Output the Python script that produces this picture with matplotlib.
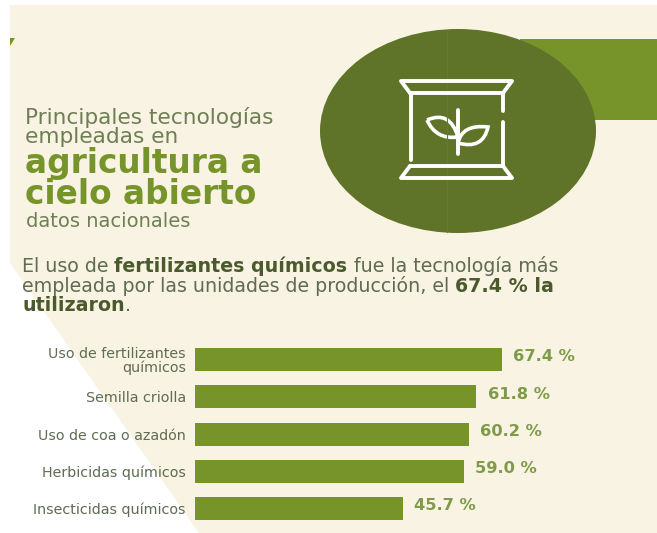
"""Principales tecnologías en agricultura a cielo abierto"""

import numpy as np
import matplotlib.pyplot as plt
from matplotlib.patches import Ellipse, PathPatch, Polygon, Rectangle
from matplotlib.path import Path

categories = [
    "Uso de fertilizantes\nquímicos",
    "Semilla criolla",
    "Uso de coa o azadón",
    "Herbicidas químicos",
    "Insecticidas químicos",
]
percentages = [67.4, 61.8, 60.2, 59.0, 45.7]

paragraph = [
    [("El uso de ", False), ("fertilizantes químicos", True), (" fue la tecnología más", False)],
    [("empleada por las unidades de producción, el ", False), ("67.4 % la", True)],
    [("utilizaron", True), (".", False)],
]

WIDTH, HEIGHT = 657, 533
CREAM = "#f8f3e2"
GREEN = "#76942a"
DARK_GREEN = "#5f7428"
VALUE_GREEN = "#7f9a48"
GRAY_TEXT = "#5f6b52"
BOLD_TEXT = "#4b5a2c"

plt.rcParams["font.family"] = ["DejaVu Sans"]

fig = plt.figure(figsize=(WIDTH / 100, HEIGHT / 100), dpi=100, facecolor="white")

# background layer in pixel coordinates, y going down
bg = fig.add_axes([0, 0, 1, 1])
bg.set_xlim(0, WIDTH)
bg.set_ylim(HEIGHT, 0)
bg.axis("off")

bg.add_patch(
    Polygon(
        [(10, 5), (657, 5), (657, 533), (199, 533), (10, 263)],
        facecolor=CREAM,
        edgecolor="none",
    )
)
bg.add_patch(Polygon([(10, 38), (15, 38), (10, 46)], facecolor=GREEN, edgecolor="none"))
bg.add_patch(Rectangle((520, 39), 137, 81, facecolor=GREEN, edgecolor="none"))
bg.add_patch(Ellipse((458, 131), 276, 204, facecolor=DARK_GREEN, edgecolor="none"))
bg.plot([447, 447], [30, 232], color="#66792f", lw=0.8)

# sack icon
icon = dict(color="white", lw=2.8, solid_capstyle="round", solid_joinstyle="round")
bg.plot([410, 401, 512, 503, 410], [93, 81, 81, 93, 93], **icon)
bg.plot([410, 401, 512, 503, 410], [166, 178, 178, 166, 166], **icon)
bg.plot([410.5, 410.5], [93, 160], **icon)
bg.plot([503, 503], [93, 111], **icon)
bg.plot([503, 503], [114.5, 114.6], **icon)
bg.plot([503, 503], [122, 166], **icon)
bg.plot([458, 458], [110, 154], **icon)


def leaf(points):
    codes = [Path.MOVETO, Path.CURVE3, Path.CURVE3, Path.CURVE3, Path.CURVE3]
    return PathPatch(
        Path(points, codes),
        facecolor="none",
        edgecolor="white",
        lw=2.6,
        joinstyle="miter",
    )


bg.add_patch(leaf([(427, 120), (450, 110), (458, 137), (436, 140), (427, 120)]))
bg.add_patch(leaf([(458, 143), (462, 124), (488, 127), (483, 150), (458, 143)]))

# heading
bg.text(25, 124, "Principales tecnologías", fontsize=15.6, color="#6f7f55")
bg.text(25, 143, "empleadas en", fontsize=15.6, color="#6f7f55")
bg.text(25, 173, "agricultura a", fontsize=23.6, color=GREEN, fontweight="bold")
bg.text(25, 204, "cielo abierto", fontsize=23.6, color=GREEN, fontweight="bold")
bg.text(26, 227, "datos nacionales", fontsize=14, color="#6f7f55")

# intro paragraph, runs placed one after another on each line
renderer = fig.canvas.get_renderer()
for runs, baseline in zip(paragraph, [272, 292, 311]):
    x = 22
    for run, bold in runs:
        txt = bg.text(
            x,
            baseline,
            run,
            fontsize=13.67,
            color=BOLD_TEXT if bold else GRAY_TEXT,
            fontweight="bold" if bold else "normal",
        )
        x = bg.transData.inverted().transform(
            (txt.get_window_extent(renderer).x1, 0)
        )[0]

# bar chart, one percentage point is 4.555 px
ax = fig.add_axes([195 / WIDTH, 1 - 527.1 / HEIGHT, 462 / WIDTH, 186 / HEIGHT])
ax.patch.set_alpha(0)
y_pos = np.arange(len(categories))
ax.barh(y_pos, percentages, height=0.62, color=GREEN)
ax.set_xlim(0, 462 / 4.555)
ax.set_ylim(len(categories) - 0.5, -0.5)
ax.set_yticks(y_pos, categories, fontsize=10.3, color=GRAY_TEXT, linespacing=1.0)
ax.tick_params(axis="y", length=0, pad=6.5)
ax.set_xticks([])
for spine in ax.spines.values():
    spine.set_visible(False)

for y, value in zip(y_pos, percentages):
    ax.annotate(
        f"{value:.1f} %",
        xy=(value, y),
        xytext=(8, 2),
        textcoords="offset points",
        va="center",
        fontsize=11.7,
        fontweight="bold",
        color=VALUE_GREEN,
    )

fig.savefig("out.png", dpi=100)
